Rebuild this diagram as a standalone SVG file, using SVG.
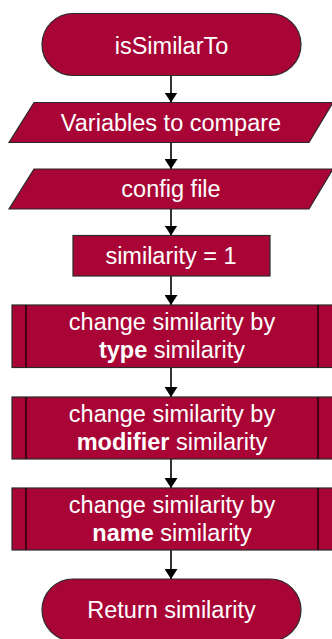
<svg xmlns="http://www.w3.org/2000/svg" width="332" height="639" viewBox="0 0 332 639">
  <defs>
    <marker id="arrow" viewBox="0 0 10 13" refX="10" refY="6.5" markerWidth="10" markerHeight="13" markerUnits="userSpaceOnUse" orient="auto">
      <path d="M0,0 L10,6.5 L0,13 Z" fill="#000"/>
    </marker>
  </defs>
  <style>
    .shape { fill: #A80536; stroke: #2a2a2a; stroke-width: 1.2; }
    .bar { stroke: #000; stroke-width: 1.2; fill: none; }
    .label { font-family: "Liberation Sans", Arial, sans-serif; font-size: 23.5px; fill: #ffffff; text-anchor: middle; }
    .label .b { font-weight: bold; }
    .edge { stroke: #000; stroke-width: 1.6; fill: none; marker-end: url(#arrow); }
  </style>
  <rect width="332" height="639" fill="#ffffff"/>

  <g id="connectors">
    <line class="edge" x1="171" y1="75.5" x2="171" y2="102.5"/>
    <line class="edge" x1="171" y1="142.5" x2="171" y2="169"/>
    <line class="edge" x1="171" y1="209" x2="171" y2="235.5"/>
    <line class="edge" x1="171" y1="276" x2="171" y2="305"/>
    <line class="edge" x1="171" y1="367.5" x2="171" y2="397"/>
    <line class="edge" x1="171" y1="459" x2="171" y2="488"/>
    <line class="edge" x1="171" y1="550" x2="171" y2="579"/>
  </g>

  <g id="start">
    <rect class="shape" x="42" y="13.5" width="259" height="62" rx="31" ry="31"/>
    <text class="label" x="171.5" y="53.5">isSimilarTo</text>
  </g>

  <g id="input-variables">
    <polygon class="shape" points="34,102.5 333,102.5 309,142.5 9,142.5"/>
    <text class="label" x="171" y="131">Variables to compare</text>
  </g>

  <g id="input-config">
    <polygon class="shape" points="34,169 333,169 309,209 9,209"/>
    <text class="label" x="171" y="197">config file</text>
  </g>

  <g id="init-similarity">
    <rect class="shape" x="73" y="235.5" width="197" height="40.5"/>
    <text class="label" x="171" y="264">similarity = 1</text>
  </g>

  <g id="type-step">
    <rect class="shape" x="12" y="305" width="321" height="62.5"/>
    <line class="bar" x1="26" y1="305" x2="26" y2="367.5"/>
    <line class="bar" x1="318" y1="305" x2="318" y2="367.5"/>
    <text class="label" x="172" y="330">change similarity by</text>
    <text class="label" x="172" y="358"><tspan class="b">type</tspan> similarity</text>
  </g>

  <g id="modifier-step">
    <rect class="shape" x="12" y="397" width="321" height="62"/>
    <line class="bar" x1="26" y1="397" x2="26" y2="459"/>
    <line class="bar" x1="318" y1="397" x2="318" y2="459"/>
    <text class="label" x="172" y="422">change similarity by</text>
    <text class="label" x="172" y="450"><tspan class="b">modifier</tspan> similarity</text>
  </g>

  <g id="name-step">
    <rect class="shape" x="12" y="488" width="321" height="62"/>
    <line class="bar" x1="26" y1="488" x2="26" y2="550"/>
    <line class="bar" x1="318" y1="488" x2="318" y2="550"/>
    <text class="label" x="172" y="513">change similarity by</text>
    <text class="label" x="172" y="541"><tspan class="b">name</tspan> similarity</text>
  </g>

  <g id="end">
    <rect class="shape" x="42" y="579" width="259" height="62" rx="31" ry="31"/>
    <text class="label" x="171.5" y="618">Return similarity</text>
  </g>
</svg>
